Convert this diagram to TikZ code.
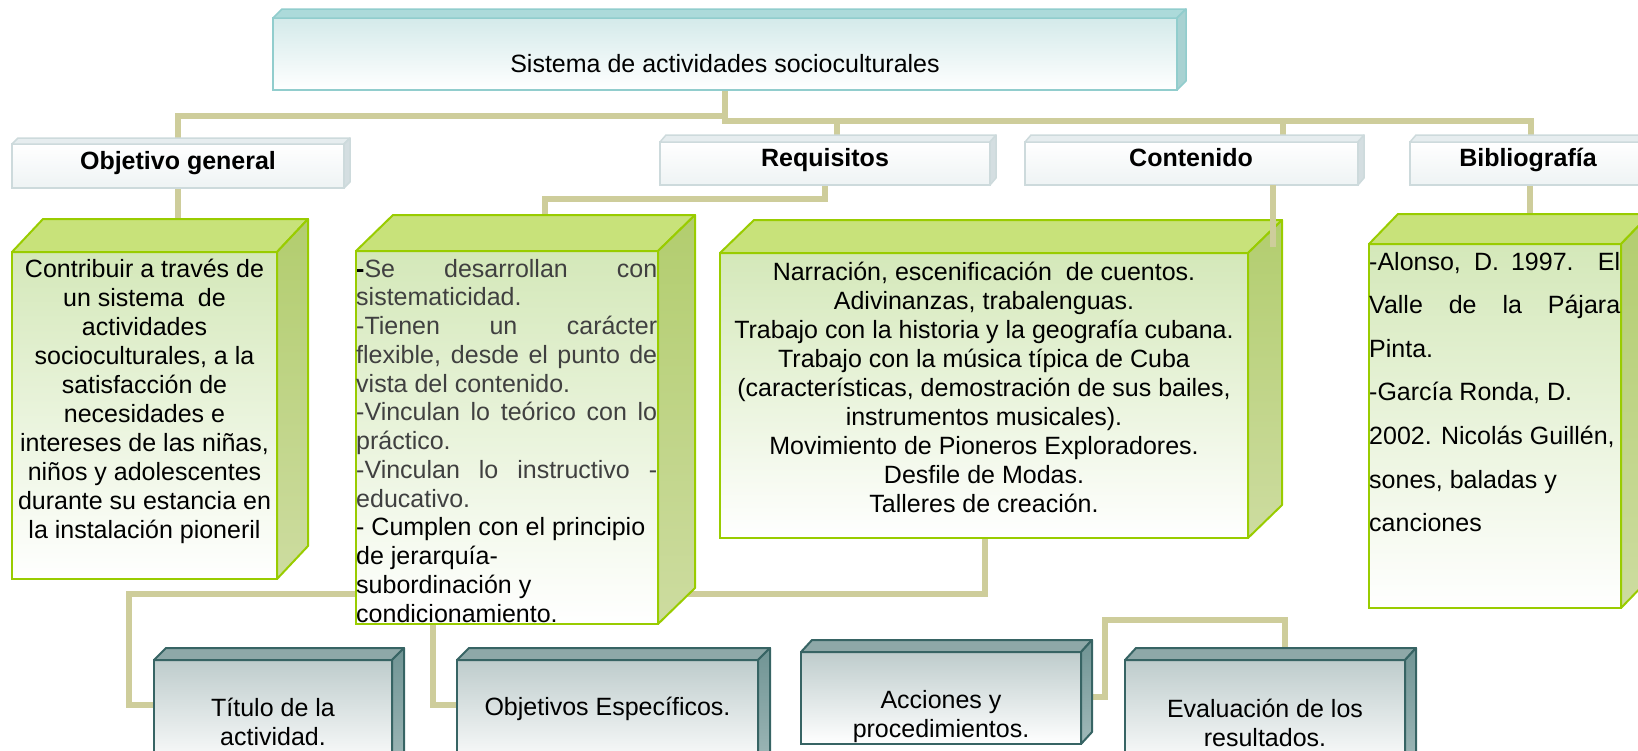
\documentclass[tikz,border=0pt]{standalone}
\usepackage{fontspec}
\setmainfont{Liberation Sans}
\usetikzlibrary{calc,backgrounds}
\definecolor{conncol}{RGB}{206,205,155}
\definecolor{tlB}{RGB}{145,205,205}
\definecolor{tlTop}{RGB}{172,218,218}
\definecolor{tlSide}{RGB}{168,210,210}
\definecolor{tlFront}{RGB}{212,234,234}
\definecolor{hdB}{RGB}{205,218,220}
\definecolor{hdTop}{RGB}{230,237,239}
\definecolor{hdSide}{RGB}{212,222,225}
\definecolor{hdFront}{RGB}{238,243,244}
\definecolor{grB}{RGB}{153,204,0}
\definecolor{grTop}{RGB}{200,226,122}
\definecolor{grSideA}{RGB}{178,205,110}
\definecolor{grSideB}{RGB}{205,220,160}
\definecolor{grFront}{RGB}{212,232,185}
\definecolor{gyB}{RGB}{55,100,100}
\definecolor{gyTop}{RGB}{142,168,168}
\definecolor{gySideA}{RGB}{112,148,148}
\definecolor{gySideB}{RGB}{160,185,185}
\definecolor{gyFront}{RGB}{190,204,204}
\definecolor{reqgray}{RGB}{64,64,64}
\tikzset{
  conn/.style={line width=6.5pt, draw=conncol},
  tlfront/.style={draw=tlB, line width=1.5pt, top color=tlFront, bottom color=white},
  tltop/.style={draw=tlB, line width=1.5pt, fill=tlTop, line join=round},
  tlside/.style={draw=tlB, line width=1.5pt, fill=tlSide, line join=round},
  hdfront/.style={draw=hdB, line width=1.5pt, top color=white, bottom color=hdFront},
  hdtop/.style={draw=hdB, line width=1.5pt, fill=hdTop, line join=round},
  hdside/.style={draw=hdB, line width=1.5pt, fill=hdSide, line join=round},
  grfront/.style={draw=grB, line width=2pt, top color=grFront, bottom color=white},
  grtop/.style={draw=grB, line width=2pt, fill=grTop, line join=round},
  grside/.style={draw=grB, line width=2pt, top color=grSideA, bottom color=grSideB, line join=round},
  gyfront/.style={draw=gyB, line width=2pt, top color=gyFront, bottom color=white},
  gytop/.style={draw=gyB, line width=2pt, fill=gyTop, line join=round},
  gyside/.style={draw=gyB, line width=2pt, top color=gySideA, bottom color=gySideB, line join=round},
  txt/.style={font=\fontsize{25}{30}\selectfont, inner sep=0pt, anchor=base},
  hdtxt/.style={font=\fontsize{25}{30}\selectfont\bfseries, inner sep=0pt, anchor=base},
  ltxt/.style={font=\fontsize{25}{30}\selectfont, inner sep=0pt, anchor=base west},
}
% #1 name, #2 kind, #3 x1, #4 y1, #5 x2, #6 y2, #7 dx, #8 dy
\newcommand\boxcube[8]{%
  \node[#2front, inner sep=0pt, outer sep=0pt, anchor=north west,
        minimum width={(#5-#3)*1pt}, minimum height={(#6-#4)*1pt}] (#1) at (#3,#4) {};
  \path[#2top] (#1.north west) -- ++(#7,-#8) -- ($(#1.north east)+(#7,-#8)$) -- (#1.north east) -- cycle;
  \path[#2side] (#1.north east) -- ++(#7,-#8) -- ($(#1.south east)+(#7,-#8)$) -- (#1.south east) -- cycle;
}
\begin{document}
\begin{tikzpicture}[x=1pt,y=-1pt]
\useasboundingbox (0,0) rectangle (1638,750);
\clip (0,0) rectangle (1638,750);

\coordinate (yL) at (0,116);
\coordinate (yR) at (0,121);
\coordinate (xreq) at (837,0);
\coordinate (xcnt) at (1283,0);
\coordinate (xbib) at (1531,0);
\coordinate (yreq) at (0,199);
\coordinate (xreqg) at (545,0);
\coordinate (xcntg) at (1273,0);
\coordinate (ycnt) at (0,247);
\coordinate (ybot) at (0,594);
\coordinate (xleft) at (129,0);
\coordinate (xcb) at (985,0);
\coordinate (ytit) at (0,705);
\coordinate (xreqb) at (433,0);
\coordinate (yacc) at (0,697);
\coordinate (xacc) at (1105,0);
\coordinate (yev) at (0,620);
\coordinate (xev) at (1285,0);

% boxes
\boxcube{sys}{tl}{273}{18}{1177}{90}{9}{9}
\boxcube{objh}{hd}{12}{144}{344}{188}{6}{6}
\boxcube{reqh}{hd}{660}{142}{990}{185}{6}{7}
\boxcube{cnth}{hd}{1025}{142}{1358}{185}{6}{7}
\boxcube{bibh}{hd}{1410}{142}{1650}{185}{6}{7}
\boxcube{objg}{gr}{12}{252}{277}{579}{31}{33}
\boxcube{reqg}{gr}{356}{251}{658}{624}{37}{36}
\boxcube{cntg}{gr}{720}{253}{1248}{538}{34}{33}
\boxcube{bibg}{gr}{1369}{244}{1621}{608}{29}{30}
\boxcube{tit}{gy}{154}{660}{392}{770}{12}{12}
\boxcube{oesp}{gy}{457}{660}{758}{770}{12}{12}
\boxcube{acc}{gy}{801}{652}{1081}{744}{11}{12}
\boxcube{eval}{gy}{1125}{660}{1405}{770}{11}{12}

% connectors behind the boxes
\begin{pgfonlayer}{background}
\draw[conn] (sys.south) -- (sys.south |- yL) -| (objh.north);
\draw[conn] (sys.south |- yL) -- (sys.south |- yR) -| (bibh.north -| xbib);
\draw[conn] (xreq |- yR) -- (reqh.north -| xreq);
\draw[conn] (xcnt |- yR) -- (cnth.north -| xcnt);
\draw[conn] (objh.south) -- (objh.south |- objg.north);
\draw[conn] (reqh.south) -- (reqh.south |- yreq) -| (reqg.north -| xreqg);
\draw[conn] (bibh.south) -- (bibh.south |- bibg.north);
\draw[conn] (tit.north west |- ytit) -| (xleft |- ybot) -| (cntg.south -| xcb);
\draw[conn] (reqg.south -| xreqb) |- (oesp.north west |- ytit);
\draw[conn] (acc.north east |- yacc) -| (xacc |- yev) -| (eval.north -| xev);
\end{pgfonlayer}

% connector over the Contenido box
\draw[conn] (cnth.south -| xcntg) -- (xcntg |- ycnt);

% texts
\node[txt] (systxt) at (725,72) {Sistema de actividades socioculturales};
\node[hdtxt] (objht) at (178,169) {Objetivo general};
\node[hdtxt] (reqht) at (825,166) {Requisitos};
\node[hdtxt] (cntht) at (1191,166) {Contenido};
\node[hdtxt] (bibht) at (1528,166) {Bibliografía};

\foreach \t [count=\i] in {{Contribuir a través de},{un sistema\ \ de},{actividades},
  {socioculturales, a la},{satisfacción de},{necesidades e},{intereses de las niñas,},
  {niños y adolescentes},{durante su estancia en},{la instalación pioneril}}
  \node[txt] (og\i) at (144.5,{277+29.1*(\i-1)}) {\t};

\foreach \t [count=\i] in {
  {\makebox[301pt][s]{{\color{black}\bfseries-}Se desarrollan con}},
  {sistematicidad.},
  {\makebox[301pt][s]{-Tienen un carácter}},
  {\makebox[301pt][s]{flexible, desde el punto de}},
  {vista del contenido.},
  {\makebox[301pt][s]{-Vinculan lo teórico con lo}},
  {práctico.},
  {\makebox[301pt][s]{-Vinculan lo instructivo -}},
  {educativo.}}
  \node[ltxt, text=reqgray] (rq\i) at (356,{277+28.75*(\i-1)}) {\t};
\foreach \t [count=\i from 10] in {{- Cumplen con el principio},{de jerarquía-},
  {subordinación y},{condicionamiento.}}
  \node[ltxt] (rq\i) at (356,{277+28.75*(\i-1)}) {\t};

\foreach \t [count=\i] in {{Narración, escenificación\ \ de cuentos.},
  {Adivinanzas, trabalenguas.},{Trabajo con la historia y la geografía cubana.},
  {Trabajo con la música típica de Cuba},{(características, demostración de sus bailes,},
  {instrumentos musicales).},{Movimiento de Pioneros Exploradores.},
  {Desfile de Modas.},{Talleres de creación.}}
  \node[txt] (ct\i) at (984,{280+29*(\i-1)}) {\t};

\foreach \t [count=\i] in {{\makebox[251pt][s]{-Alonso, D. 1997. El}},
  {\makebox[251pt][s]{Valle de la Pájara}},{Pinta.},{-García Ronda, D.},
  {2002. Nicolás Guillén,},{sones, baladas y},{canciones}}
  \node[ltxt] (bb\i) at (1369,{270+43.6*(\i-1)}) {\t};

\node[txt] (tit1) at (273,716) {Título de la};
\node[txt] (tit2) at (273,745) {actividad.};
\node[txt] (oesp1) at (607.5,715) {Objetivos Específicos.};
\node[txt] (acc1) at (941,708) {Acciones y};
\node[txt] (acc2) at (941,737) {procedimientos.};
\node[txt] (ev1) at (1265,717) {Evaluación de los};
\node[txt] (ev2) at (1265,746) {resultados.};
\end{tikzpicture}
\end{document}
